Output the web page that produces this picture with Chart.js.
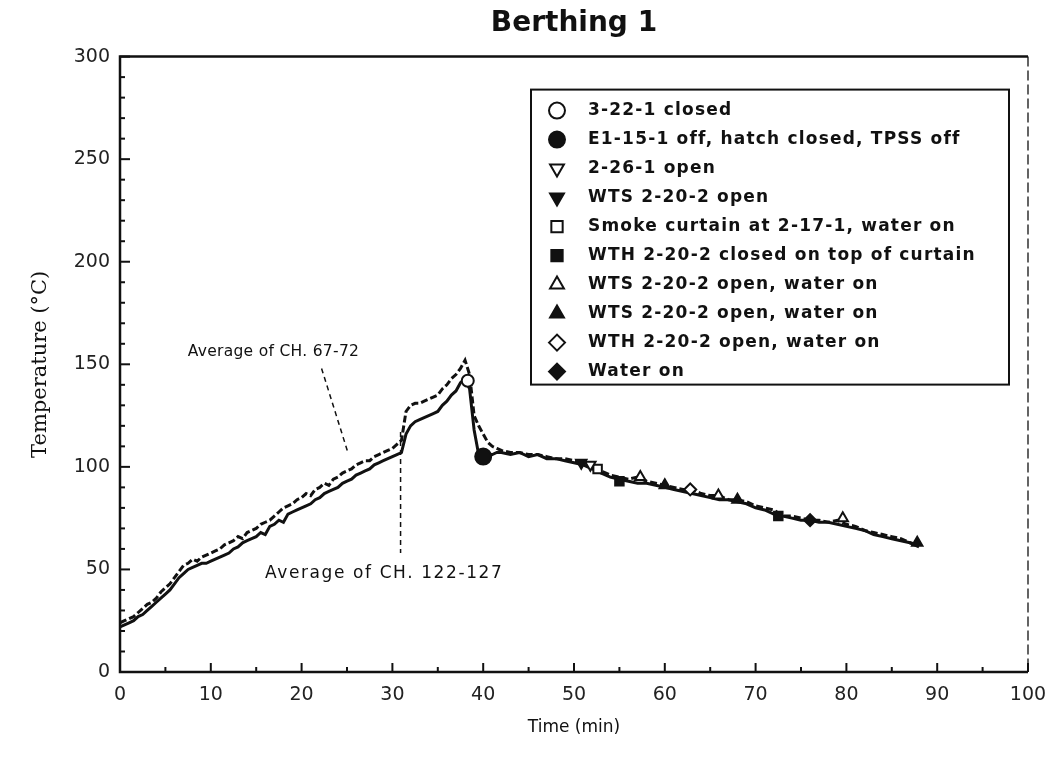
<!DOCTYPE html>
<html>
<head>
<meta charset="utf-8">
<title>Berthing 1</title>
<script src="https://cdn.jsdelivr.net/npm/chart.js@4.4.1/dist/chart.umd.min.js"></script>
<style>
  html, body { margin: 0; padding: 0; background: #fff; }
  #chart { display: block; }
</style>
</head>
<body>
<canvas id="chart" width="1054" height="767"></canvas>
<script>
(function () {
  "use strict";

  // ── Data ───────────────────────────────────────────
  // rising part, both channel averages, every half minute
  const riseTime = [
    0, 0.5, 1, 1.5, 2, 2.5, 3, 3.5, 4, 4.5,
    5, 5.5, 6, 6.5, 7, 7.5, 8, 8.5, 9, 9.5,
    10, 10.5, 11, 11.5, 12, 12.5, 13, 13.5, 14, 14.5,
    15, 15.5, 16, 16.5, 17, 17.5, 18, 18.5, 19, 19.5,
    20, 20.5, 21, 21.5, 22, 22.5, 23, 23.5, 24, 24.5,
    25, 25.5, 26, 26.5, 27, 27.5, 28, 28.5, 29, 29.5,
    30, 30.5, 31, 31.5, 32, 32.5, 33, 33.5, 34, 34.5,
    35, 35.5, 36, 36.5, 37, 37.5, 38, 38.5, 39, 39.5,
    40, 40.5, 41, 41.5, 42
  ];
  const upperRise = [   // Average of CH. 67-72
    24, 25, 26, 27, 29, 31, 33, 34, 36, 39,
    41, 43, 46, 49, 52, 53, 55, 54, 56, 57,
    58, 59, 60, 62, 63, 64, 66, 65, 68, 69,
    70, 72, 73, 74, 76, 78, 80, 81, 82, 84,
    85, 87, 86, 89, 90, 92, 91, 94, 95, 97,
    98, 99, 101, 102, 103, 103, 105, 106, 107, 108,
    109, 111, 113, 127, 130, 131, 131, 132, 133, 134,
    135, 138, 140, 143, 145, 148, 152, 145, 125, 120,
    116, 112, 110, 109, 108
  ];
  const lowerRise = [   // Average of CH. 122-127
    22, 23, 24, 25, 27, 28, 30, 32, 34, 36,
    38, 40, 43, 46, 48, 50, 51, 52, 53, 53,
    54, 55, 56, 57, 58, 60, 61, 63, 64, 65,
    66, 68, 67, 71, 72, 74, 73, 77, 78, 79,
    80, 81, 82, 84, 85, 87, 88, 89, 90, 92,
    93, 94, 96, 97, 98, 99, 101, 102, 103, 104,
    105, 106, 107, 116, 120, 122, 123, 124, 125, 126,
    127, 130, 132, 135, 137, 141, 143, 138, 118, 106,
    105, 106, 106, 107, 107
  ];

  // cooling part, every minute
  const tailTime = [
    43, 44, 45, 46, 47, 48, 49, 50, 51, 52,
    53, 54, 55, 56, 57, 58, 59, 60, 61, 62,
    63, 64, 65, 66, 67, 68, 69, 70, 71, 72,
    73, 74, 75, 76, 77, 78, 79, 80, 81, 82,
    83, 84, 85, 86, 87, 88
  ];
  const upperTail = [
    107, 107, 106, 106, 105, 104, 104, 103, 102, 101,
    98, 96, 95, 94, 95, 93, 92, 91, 90, 89,
    89, 87, 86, 86, 84, 84, 83, 81, 80, 79,
    76, 76, 75, 74, 74, 73, 74, 72, 71, 69,
    68, 67, 66, 65, 63, 62
  ];
  const lowerTail = [
    106, 107, 105, 106, 104, 104, 103, 102, 101, 99,
    97, 95, 94, 93, 92, 92, 91, 90, 89, 88,
    87, 86, 85, 84, 84, 83, 82, 80, 79, 77,
    76, 75, 74, 74, 73, 73, 72, 71, 70, 69,
    67, 66, 65, 64, 63, 61
  ];

  // event markers
  const eventLabels = [
    "3-22-1 closed",
    "E1-15-1 off, hatch closed, TPSS off",
    "2-26-1 open",
    "WTS 2-20-2 open",
    "Smoke curtain at 2-17-1, water on",
    "WTH 2-20-2 closed on top of curtain",
    "WTS 2-20-2 open, water on",
    "WTS 2-20-2 open, water on",
    "WTH 2-20-2 open, water on",
    "Water on"
  ];
  const eventTimes = [[38.3], [40.0], [51.8], [50.8], [52.6], [55.0, 72.5], [57.3, 65.9, 79.6], [60.0, 68.0, 87.8], [62.8], [76.0]];
  const eventTemps = [[142], [105], [101], [102], [99], [93, 76], [95, 86, 75], [91, 84, 63], [89], [74]];

  // ── Styles ─────────────────────────────────
  const INK = "#111";
  const MARKERS = [
    { style: "circle",   rot: 0,   fill: false, r: 6 },
    { style: "circle",   rot: 0,   fill: true,  r: 8 },
    { style: "triangle", rot: 180, fill: false, r: 6 },
    { style: "triangle", rot: 180, fill: true,  r: 6 },
    { style: "rect",     rot: 0,   fill: false, r: 6 },
    { style: "rect",     rot: 0,   fill: true,  r: 6 },
    { style: "triangle", rot: 0,   fill: false, r: 6 },
    { style: "triangle", rot: 0,   fill: true,  r: 6 },
    { style: "rectRot",  rot: 0,   fill: false, r: 6 },
    { style: "rectRot",  rot: 0,   fill: true,  r: 6 }
  ];
  const SANS = "'DejaVu Sans', sans-serif";

  // ── Build datasets ─────────────────────────
  const allTime = riseTime.concat(tailTime);
  const upper = upperRise.concat(upperTail);
  const lower = lowerRise.concat(lowerTail);

  const datasets = [
    {
      label: "Average of CH. 67-72",
      data: allTime.map((t, i) => ({ x: t, y: upper[i] })),
      borderColor: INK, borderWidth: 3, borderDash: [7, 3],
      pointRadius: 0, tension: 0, order: 2
    },
    {
      label: "Average of CH. 122-127",
      data: allTime.map((t, i) => ({ x: t, y: lower[i] })),
      borderColor: INK, borderWidth: 3,
      pointRadius: 0, tension: 0, order: 2
    }
  ];

  eventLabels.forEach((label, k) => {
    const m = MARKERS[k];
    datasets.push({
      label,
      data: eventTimes[k].map((t, i) => ({ x: t, y: eventTemps[k][i] })),
      showLine: false,
      pointStyle: m.style,
      pointRotation: m.rot,
      pointRadius: m.r,
      pointBorderWidth: 2,
      pointBorderColor: INK,
      pointBackgroundColor: m.fill ? INK : "#fff",
      order: 1
    });
  });

  // ══════════════════════════════════════════
  // Plugins: frame with inward ticks, notes, legend box
  // ══════════════════════════════════════════
  const frameTicks = {
    id: "frameTicks",
    afterDraw(chart) {
      const { ctx, chartArea: a, scales: { x, y } } = chart;
      ctx.save();
      ctx.strokeStyle = INK;
      ctx.lineCap = "butt";

      // minor + major ticks, pointing into the plot
      ctx.lineWidth = 2;
      for (let v = 0; v <= 300; v += 10) {
        const py = y.getPixelForValue(v);
        const len = v % 50 === 0 ? 10 : 5;
        ctx.beginPath(); ctx.moveTo(a.left, py); ctx.lineTo(a.left + len, py); ctx.stroke();
      }
      for (let v = 0; v <= 100; v += 5) {
        const px = x.getPixelForValue(v);
        const len = v % 10 === 0 ? 9 : 5;
        ctx.beginPath(); ctx.moveTo(px, a.bottom); ctx.lineTo(px, a.bottom - len); ctx.stroke();
      }

      // frame
      ctx.lineWidth = 2.5;
      ctx.beginPath();
      ctx.moveTo(a.right, a.top); ctx.lineTo(a.left, a.top);
      ctx.lineTo(a.left, a.bottom); ctx.lineTo(a.right, a.bottom);
      ctx.stroke();
      ctx.lineWidth = 1.3;
      ctx.setLineDash([10, 4]);
      ctx.beginPath(); ctx.moveTo(a.right, a.top); ctx.lineTo(a.right, a.bottom); ctx.stroke();
      ctx.restore();
    }
  };

  const notes = {
    id: "notes",
    afterDatasetsDraw(chart) {
      const { ctx, scales: { x, y } } = chart;
      ctx.save();
      ctx.strokeStyle = INK;
      ctx.fillStyle = INK;
      ctx.lineWidth = 1.5;
      ctx.setLineDash([5, 4]);
      ctx.beginPath();
      ctx.moveTo(x.getPixelForValue(22.2), y.getPixelForValue(148));
      ctx.lineTo(x.getPixelForValue(25.1), y.getPixelForValue(107));
      ctx.moveTo(x.getPixelForValue(30.9), y.getPixelForValue(117));
      ctx.lineTo(x.getPixelForValue(30.9), y.getPixelForValue(58));
      ctx.stroke();
      ctx.setLineDash([]);
      ctx.textAlign = "center";
      ctx.textBaseline = "middle";
      ctx.font = "15.5px " + SANS;
      ctx.letterSpacing = "0.3px";
      ctx.fillText("Average of CH. 67-72", x.getPixelForValue(16.9), y.getPixelForValue(156));
      ctx.font = "17px " + SANS;
      ctx.letterSpacing = "1.6px";
      ctx.fillText("Average of CH. 122-127", x.getPixelForValue(29.1), y.getPixelForValue(48));
      ctx.restore();
    }
  };

  const legendBox = {
    id: "legendBox",
    afterDraw(chart) {
      const { ctx, chartArea: a } = chart;
      const left = a.right - 497, right = a.right - 19;
      const top = a.top + 33, rowH = 29;
      const bottom = top + 21 + rowH * (eventLabels.length - 1) + 13;
      ctx.save();
      ctx.fillStyle = "#fff";
      ctx.fillRect(left, top, right - left, bottom - top);
      ctx.strokeStyle = INK;
      ctx.lineWidth = 2;
      ctx.strokeRect(left, top, right - left, bottom - top);

      eventLabels.forEach((label, k) => {
        const m = MARKERS[k];
        const cy = top + 21 + rowH * k;
        ctx.fillStyle = m.fill ? INK : "#fff";
        ctx.strokeStyle = INK;
        ctx.lineWidth = 2;
        Chart.helpers.drawPoint(ctx, {
          pointStyle: m.style, rotation: m.rot, radius: 8, borderWidth: 2
        }, left + 26, cy);
        ctx.fillStyle = INK;
        ctx.font = "bold 17px " + SANS;
        ctx.letterSpacing = "1.2px";
        ctx.textAlign = "left";
        ctx.textBaseline = "middle";
        ctx.fillText(label, left + 57, cy);
      });
      ctx.restore();
    }
  };

  // ══════════════════════════════════════════
  // Chart
  // ══════════════════════════════════════════
  new Chart(document.getElementById("chart"), {
    type: "line",
    data: { datasets },
    options: {
      responsive: false,
      animation: false,
      layout: { padding: { left: 0, right: 26, top: 0, bottom: 0 } },
      plugins: {
        legend: { display: false },
        tooltip: { enabled: false },
        title: {
          display: true,
          fullSize: false,
          text: "Berthing 1",
          color: INK,
          font: { family: SANS, size: 28, weight: "bold" },
          padding: { top: 7, bottom: 16 }
        }
      },
      scales: {
        x: {
          type: "linear",
          min: 0, max: 100,
          grid: { display: false, drawTicks: false },
          border: { display: false },
          ticks: { stepSize: 10, color: "#222", padding: 12, maxRotation: 0,
                   font: { family: SANS, size: 19 } },
          title: { display: true, text: "Time (min)", color: INK,
                   font: { family: SANS, size: 17 }, padding: { top: 0, bottom: 29 } },
          afterFit(s) { s.height = 95; s.paddingRight = 0; s.paddingLeft = 0; }
        },
        y: {
          min: 0, max: 300,
          grid: { display: false, drawTicks: false },
          border: { display: false },
          ticks: { stepSize: 50, color: "#222", padding: 10,
                   font: { family: SANS, size: 19 } },
          title: { display: true, text: "Temperature (°C)", color: INK,
                   font: { family: "'DejaVu Serif', serif", size: 21 }, padding: { top: 28 } },
          afterFit(s) { s.width = 120; }
        }
      }
    },
    plugins: [frameTicks, notes, legendBox]
  });
})();
</script>
</body>
</html>
